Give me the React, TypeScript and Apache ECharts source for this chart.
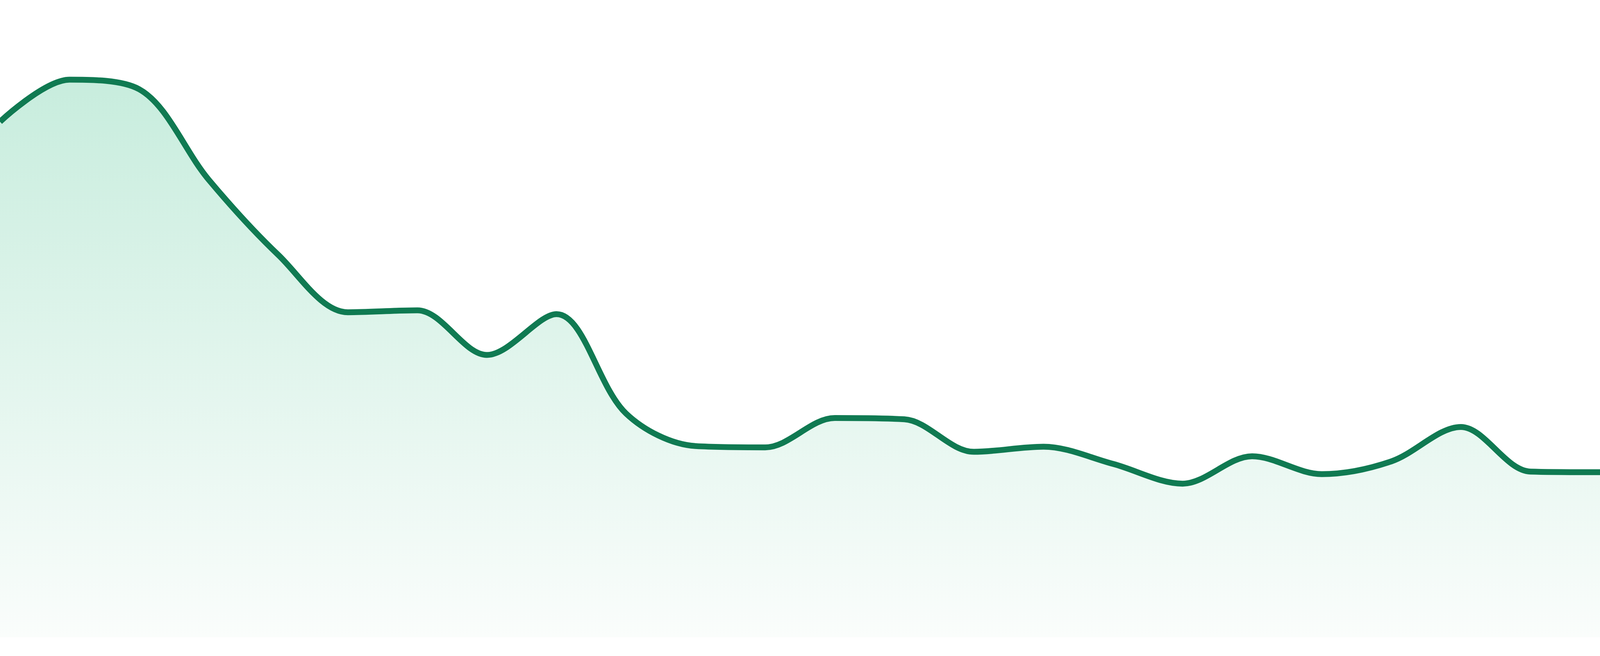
import { useEffect, useRef } from "react";
import * as echarts from "echarts";

// x positions (24 evenly spaced samples, axis is hidden)
const categories = [
  "01", "02", "03", "04", "05", "06", "07", "08", "09", "10", "11", "12",
  "13", "14", "15", "16", "17", "18", "19", "20", "21", "22", "23", "24",
];

// values (axis 0..100)
const values = [
  80.9, 87.5, 86.0, 71.8, 60.0, 51.0, 51.3, 44.3, 50.7, 35.1, 30.0, 29.8,
  34.4, 34.2, 29.1, 29.9, 27.2, 24.1, 28.4, 25.6, 27.6, 33.0, 26.0, 25.9,
];

const yMin = 0;
const yMax = 100;

const App = () => {
  const containerRef = useRef<HTMLDivElement>(null);

  useEffect(() => {
    if (!containerRef.current) return;
    document.body.style.margin = "0";

    const chart = echarts.init(containerRef.current, undefined, { renderer: "svg" });

    chart.setOption({
      animation: false,
      backgroundColor: "#ffffff",
      grid: { left: 0, right: 0, top: 0, bottom: "2.86%" },
      xAxis: {
        type: "category",
        data: categories,
        boundaryGap: false,
        show: false,
      },
      yAxis: {
        type: "value",
        min: yMin,
        max: yMax,
        show: false,
      },
      series: [
        {
          type: "line",
          data: values,
          smooth: 0.33,
          symbol: "none",
          lineStyle: { color: "#107a52", width: 15 },
          areaStyle: {
            // gradient over the area's own box, top to bottom
            color: new echarts.graphic.LinearGradient(0, 0, 0, 1, [
              { offset: 0, color: "#b0e5cf" },
              { offset: 1, color: "#f8fcfa" },
            ]),
          },
        },
      ],
    });

    const onResize = () => chart.resize();
    window.addEventListener("resize", onResize);

    return () => {
      window.removeEventListener("resize", onResize);
      chart.dispose();
    };
  }, []);

  return (
    <div
      ref={containerRef}
      style={{ position: "fixed", left: 0, top: 0, width: "100vw", height: "100vh" }}
    />
  );
};

export default App;
